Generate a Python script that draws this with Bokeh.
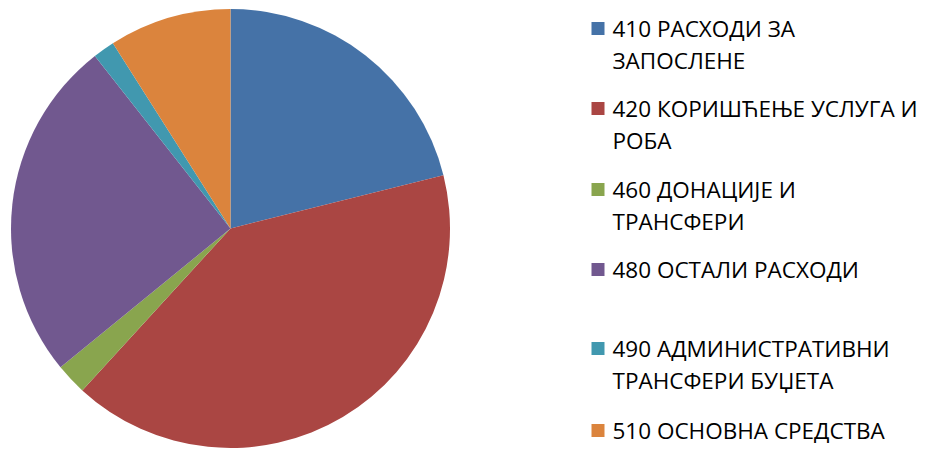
import math
from bokeh.plotting import figure
from bokeh.models import ColumnDataSource, Range1d
from bokeh.core.properties import value
from bokeh.embed import file_html
from bokeh.resources import INLINE

categories = ["410 РАСХОДИ ЗА ЗАПОСЛЕНЕ", "420 КОРИШЋЕЊЕ УСЛУГА И РОБА",
              "460 ДОНАЦИЈЕ И ТРАНСФЕРИ", "480 ОСТАЛИ РАСХОДИ",
              "490 АДМИНИСТРАТИВНИ ТРАНСФЕРИ БУЏЕТА", "510 ОСНОВНА СРЕДСТВА"]
legend_lines = [["410 РАСХОДИ ЗА", "ЗАПОСЛЕНЕ"],
                ["420 КОРИШЋЕЊЕ УСЛУГА И", "РОБА"],
                ["460 ДОНАЦИЈЕ И", "ТРАНСФЕРИ"],
                ["480 ОСТАЛИ РАСХОДИ"],
                ["490 АДМИНИСТРАТИВНИ", "ТРАНСФЕРИ БУЏЕТА"],
                ["510 ОСНОВНА СРЕДСТВА"]]
shares = [21.1, 40.7, 2.3, 25.3, 1.6, 9.0]
colors = ["#4572A7", "#AA4643", "#89A54E", "#71588F", "#4198AF", "#DB843D"]

W, H = 928, 449
p = figure(width=W, height=H, output_backend="svg", toolbar_location=None,
           x_range=Range1d(0, W), y_range=Range1d(0, H), min_border=0)
p.axis.visible = False
p.grid.visible = False
p.outline_line_color = None

def fy(page_y):
    return H - page_y

total = sum(shares)
starts, ends = [], []
acc = 0.0
for s in shares:
    starts.append(math.pi / 2 - acc / total * 2 * math.pi)
    acc += s
    ends.append(math.pi / 2 - acc / total * 2 * math.pi)

src = ColumnDataSource(dict(start=starts, end=ends, color=colors, cat=categories))
p.wedge(x=230, y=fy(228), radius=219.5, radius_units="screen",
        start_angle="start", end_angle="end", direction="clock",
        fill_color="color", line_color=None, source=src)

entry_y = [28, 108, 189, 269, 348, 430]
sq_x, sq_y, sq_c = [], [], []
tx, ty, tt = [], [], []
for i, lines in enumerate(legend_lines):
    sq_x.append(597.5)
    sq_y.append(fy(entry_y[i]))
    sq_c.append(colors[i])
    for j, ln in enumerate(lines):
        tx.append(612)
        ty.append(fy(entry_y[i] + 32 * j))
        tt.append(ln)

p.rect(x=sq_x, y=sq_y, width=13, height=13, width_units="screen",
       height_units="screen", fill_color=sq_c, line_color=None)
p.text(x=tx, y=ty, text=tt, text_font=value("Open Sans"), text_font_size="22.5px",
       text_baseline="middle", text_align="left", text_color="#000000")

open("out.html", "w").write(file_html(p, INLINE))
